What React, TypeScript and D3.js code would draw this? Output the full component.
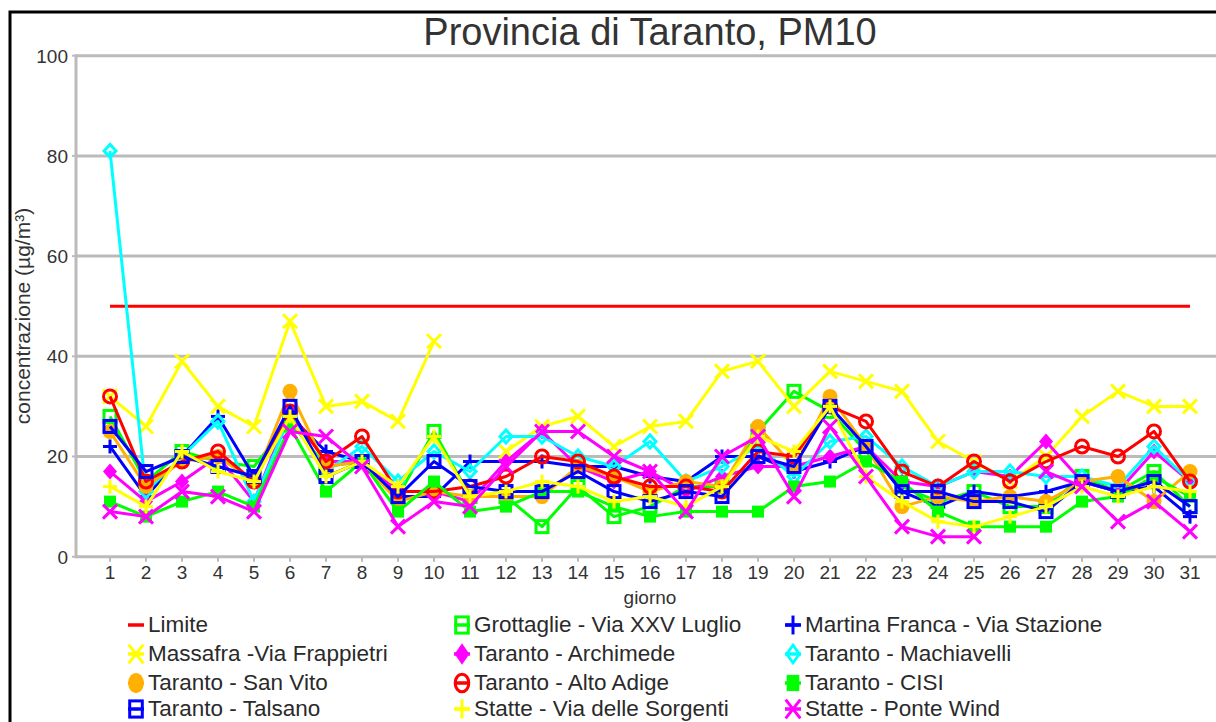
import React from "react";
import * as d3 from "d3";

const days = d3.range(1, 32);
const yTicks = [0, 20, 40, 60, 80, 100];
const limite = 50;

const grottaglie = [28, 15, 21, 19, 18, 27, 18, 19, 12, 25, 12, 12, 6, 14, 8, 10, 14, 14, 25, 33, 29, 21, 14, 11, 13, 10, 10, 16, 13, 17, 10];
const martina = [22, 12, 20, 28, 16, 28, 21, 19, 12, 12, 19, 19, 19, 18, 18, 16, 15, 20, 20, 17, 19, 22, 13, 10, 13, 12, 13, 15, 13, 14, 8];
const massafra = [32, 26, 39, 30, 26, 47, 30, 31, 27, 43, null, 21, 26, 28, 22, 26, 27, 37, 39, 30, 37, 35, 33, 23, 19, 15, 20, 28, 33, 30, 30];
const archimede = [17, 11, 15, 20, 11, 29, 19, 19, 13, 13, 11, 19, 25, 18, 15, 17, 13, 16, 18, 18, 20, 22, 15, 14, 17, 16, 23, 15, 13, 21, 15];
const machiavelli = [81, 13, 20, 27, 11, 28, 17, 22, 15, 21, 17, 24, 24, 20, 18, 23, 15, 18, 22, 16, 23, 24, 18, 14, 17, 17, 16, 16, 14, 22, 15];
const sanVito = [25, 14, 19, 20, 15, 33, 18, 19, 11, 13, 12, 12, 12, 18, 16, 13, 15, 14, 26, 18, 32, 22, 10, 12, 11, 12, 11, 15, 16, 11, 17];
const altoAdige = [32, 15, 19, 21, 15, 29, 19, 24, 13, 13, 14, 16, 20, 19, 16, 14, 14, 13, 21, 20, 30, 27, 17, 14, 19, 15, 19, 22, 20, 25, 15];
const cisi = [11, 8, 11, 13, 10, 26, 13, 19, 9, 15, 9, 10, 13, 13, 10, 8, 9, 9, 9, 14, 15, 19, 15, 9, 6, 6, 6, 11, 12, 16, 12];
const talsano = [26, 17, 20, 18, 16, 30, 16, 19, 12, 19, 14, 13, 13, 17, 13, 11, 13, 12, 20, 18, 30, 22, 13, 13, 11, 11, 9, 15, 13, 15, 10];
const sorgenti = [14, 10, 21, 17, 15, 28, 16, 19, 14, 24, 12, 13, 15, 14, 11, 12, 10, 14, 24, 21, 30, 16, 11, 7, 6, 8, 10, 14, 12, 14, 13];
const ponteWind = [9, 8, 13, 12, 9, 25, 24, 18, 6, 11, 10, 18, 25, 25, 20, 17, 9, 20, 24, 12, 26, 16, 6, 4, 4, null, 17, 14, 7, 11, 5];

type Sym = "openSquare" | "plus" | "x" | "diamond" | "openDiamond" | "circle" | "openCircle" | "square" | "none";

const series: { name: string; color: string; sym: Sym; values: (number | null)[] }[] = [
  { name: "Grottaglie - Via XXV Luglio", color: "#00ff00", sym: "openSquare", values: grottaglie },
  { name: "Martina Franca - Via Stazione", color: "#0000ff", sym: "plus", values: martina },
  { name: "Massafra -Via Frappietri", color: "#ffff00", sym: "x", values: massafra },
  { name: "Taranto - Archimede", color: "#ff00ff", sym: "diamond", values: archimede },
  { name: "Taranto - Machiavelli", color: "#00ffff", sym: "openDiamond", values: machiavelli },
  { name: "Taranto - San Vito", color: "#ffb000", sym: "circle", values: sanVito },
  { name: "Taranto - Alto Adige", color: "#ff0000", sym: "openCircle", values: altoAdige },
  { name: "Taranto - CISI", color: "#00ff00", sym: "square", values: cisi },
  { name: "Taranto - Talsano", color: "#0000ff", sym: "openSquare", values: talsano },
  { name: "Statte - Via delle Sorgenti", color: "#ffff00", sym: "plus", values: sorgenti },
  { name: "Statte - Ponte Wind", color: "#ff00ff", sym: "x", values: ponteWind },
];

const legendItems: { name: string; color: string; sym: Sym }[] = [
  { name: "Limite", color: "#ff0000", sym: "none" },
  ...series.map((s) => ({ name: s.name, color: s.color, sym: s.sym })),
];

function Marker({ sym, x, y, color, sx = 1, sy = 1 }: { sym: Sym; x: number; y: number; color: string; sx?: number; sy?: number }) {
  const kx = 6 * sx;
  const ky = 6 * sy;
  switch (sym) {
    case "openSquare":
      return <rect x={x - kx} y={y - ky} width={2 * kx} height={2 * ky} fill="none" stroke={color} strokeWidth={3} />;
    case "square":
      return <rect x={x - kx} y={y - ky} width={2 * kx} height={2 * ky} fill={color} />;
    case "plus":
      return (
        <g stroke={color} strokeWidth={3}>
          <line x1={x - 7 * sx} x2={x + 7 * sx} y1={y} y2={y} />
          <line x1={x} x2={x} y1={y - 7 * sy} y2={y + 7 * sy} />
        </g>
      );
    case "x":
      return (
        <g stroke={color} strokeWidth={3}>
          <line x1={x - 7 * sx} x2={x + 7 * sx} y1={y - 7 * sy} y2={y + 7 * sy} />
          <line x1={x - 7 * sx} x2={x + 7 * sx} y1={y + 7 * sy} y2={y - 7 * sy} />
        </g>
      );
    case "diamond":
      return <path d={`M${x},${y - 8 * sy}L${x + 7 * sx},${y}L${x},${y + 8 * sy}L${x - 7 * sx},${y}Z`} fill={color} />;
    case "openDiamond":
      return <path d={`M${x},${y - 6.5 * sy}L${x + 6 * sx},${y}L${x},${y + 6.5 * sy}L${x - 6 * sx},${y}Z`} fill="none" stroke={color} strokeWidth={3} />;
    case "circle":
      return <ellipse cx={x} cy={y} rx={7.5 * sx} ry={7.5 * sy} fill={color} />;
    case "openCircle":
      return <ellipse cx={x} cy={y} rx={6.5 * sx} ry={6.5 * sy} fill="none" stroke={color} strokeWidth={3} />;
    default:
      return null;
  }
}

export default function App() {
  const W = 1216;
  const H = 722;
  const x = d3.scaleLinear().domain([1, 31]).range([110, 1190]);
  const y = d3.scaleLinear().domain([0, 100]).range([556.7, 55.7]);
  const axisLeft = 76;
  const font = "'Liberation Sans', Arial, sans-serif";

  const line = d3
    .line<number | null>()
    .defined((d) => d !== null)
    .x((_, i) => x(days[i]))
    .y((d) => y(d as number));

  const legendColX = [136, 462, 793];
  const legendRowY = [625, 654, 683, 709];

  return (
    <svg width={W} height={H} style={{ position: "absolute", left: 0, top: 0, background: "#fff" }} fontFamily={font}>
      <rect x={0} y={0} width={W} height={H} fill="#fff" />
      <rect x={10} y={12} width={1230} height={740} fill="none" stroke="#000" strokeWidth={3} />
      {/* gridlines */}
      {yTicks.filter((t) => t > 0).map((t) => (
        <line key={t} x1={axisLeft} x2={W} y1={y(t)} y2={y(t)} stroke="#bbbbbb" strokeWidth={3} />
      ))}
      {/* axes */}
      <line x1={axisLeft} x2={axisLeft} y1={y(100) - 1.5} y2={y(0) + 1.5} stroke="#bbbbbb" strokeWidth={3} />
      <line x1={axisLeft} x2={W} y1={y(0)} y2={y(0)} stroke="#bbbbbb" strokeWidth={3} />
      {yTicks.map((t) => (
        <g key={t}>
          <line x1={axisLeft - 4} x2={axisLeft} y1={y(t)} y2={y(t)} stroke="#bbbbbb" strokeWidth={2} />
          <text x={68} y={y(t)} dy="0.36em" textAnchor="end" fontSize={19} fill="#333">
            {t}
          </text>
        </g>
      ))}
      {days.map((d) => (
        <g key={d}>
          <line x1={x(d)} x2={x(d)} y1={y(0)} y2={y(0) + 5} stroke="#bbbbbb" strokeWidth={2} />
          <text x={x(d)} y={579} textAnchor="middle" fontSize={19} fill="#333">
            {d}
          </text>
        </g>
      ))}
      <text x={650} y={45} textAnchor="middle" fontSize={38} fill="#333">
        Provincia di Taranto, PM10
      </text>
      <text x={650} y={604} textAnchor="middle" fontSize={19} fill="#333">
        giorno
      </text>
      <text transform={`translate(30,316) rotate(-90)`} textAnchor="middle" fontSize={21} fill="#333">
        concentrazione (µg/m³)
      </text>
      {/* limit line */}
      <line x1={x(1)} x2={x(31)} y1={y(limite)} y2={y(limite)} stroke="#ff0000" strokeWidth={3} />
      {series.map((s) => (
        <g key={s.name}>
          <path d={line(s.values) || ""} fill="none" stroke={s.color} strokeWidth={3} strokeLinejoin="round" />
          {s.values.map((v, i) =>
            v === null ? null : <Marker key={i} sym={s.sym} x={x(days[i])} y={y(v)} color={s.color} />
          )}
        </g>
      ))}
      {/* legend */}
      {legendItems.map((it, i) => {
        const cx = legendColX[i % 3];
        const cy = legendRowY[Math.floor(i / 3)];
        return (
          <g key={it.name}>
            <line x1={cx - 8} x2={cx + 8} y1={cy} y2={cy} stroke={it.color} strokeWidth={3.5} />
            <Marker sym={it.sym} x={cx} y={cy} color={it.color} sx={1.05} sy={1.35} />
            <text x={cx + 12} y={cy} dy="0.32em" fontSize={22.5} fill="#2a2a2a">
              {it.name}
            </text>
          </g>
        );
      })}
    </svg>
  );
}
